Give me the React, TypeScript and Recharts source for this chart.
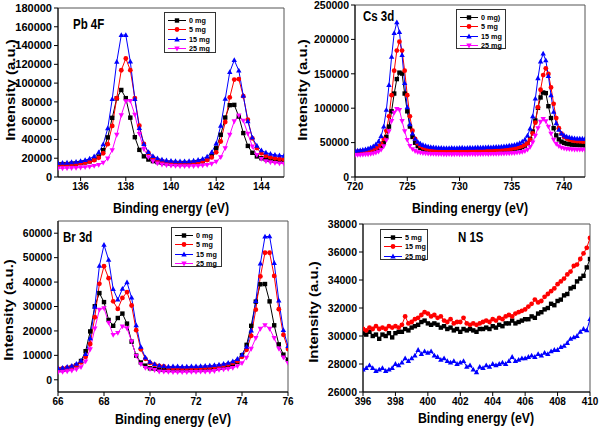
import { LineChart, Line, XAxis, YAxis, ReferenceArea } from "recharts";

// values are in thousands of counts (a.u.), multiplied by K when the rows are built
const K = 1000;

// ---- Pb 4F ----
const PB_X = [
  135, 135.2, 135.4, 135.6, 135.8, 136, 136.2, 136.4, 136.6, 136.8,
  137, 137.2, 137.4, 137.6, 137.8, 138, 138.2, 138.4, 138.6, 138.8,
  139, 139.2, 139.4, 139.6, 139.8, 140, 140.2, 140.4, 140.6, 140.8,
  141, 141.2, 141.4, 141.6, 141.8, 142, 142.2, 142.4, 142.6, 142.8,
  143, 143.2, 143.4, 143.6, 143.8, 144, 144.2, 144.4, 144.6, 144.8, 145,
];
const PB_0MG = [
  13.4, 13.7, 13.7, 14.2, 14.3, 14.9, 15.6, 16.6, 18.4, 21.8,
  28.6, 42.2, 63.0, 83.8, 92.7, 84.0, 63.2, 42.4, 28.9, 22.0,
  18.6, 16.9, 15.9, 15.2, 14.8, 14.6, 14.4, 14.6, 14.5, 14.8,
  15.1, 15.8, 16.8, 18.7, 22.5, 30.6, 45.0, 63.3, 76.5, 76.8,
  64.4, 46.8, 33.1, 25.8, 21.9, 20.0, 18.9, 18.2, 17.7, 17.4, 17.1,
];
const PB_5MG = [
  13.1, 13.3, 13.6, 13.9, 14.1, 14.7, 15.4, 16.4, 17.9, 20.4,
  25.3, 35.0, 54.4, 84.0, 113.7, 126.2, 113.8, 84.1, 54.6, 35.2,
  25.6, 20.7, 18.3, 16.8, 15.9, 15.3, 15.1, 14.9, 14.8, 15.0,
  15.2, 15.7, 16.7, 18.1, 20.9, 26.3, 37.8, 58.6, 84.8, 103.8,
  104.3, 86.1, 61.0, 41.2, 30.8, 25.3, 22.5, 21.0, 19.9, 19.3, 18.8,
];
const PB_15MG = [
  14.7, 15.0, 15.2, 15.7, 16.2, 17.0, 18.0, 19.5, 21.9, 26.2,
  34.7, 51.7, 83.0, 122.7, 151.1, 151.2, 122.8, 83.1, 52.0, 35.0,
  26.5, 22.3, 19.9, 18.5, 17.6, 17.1, 16.8, 16.7, 16.7, 16.8,
  17.3, 18.1, 19.4, 21.7, 26.3, 35.7, 54.6, 83.2, 111.8, 124.4,
  113.4, 86.4, 59.4, 41.9, 33.3, 28.3, 26.0, 24.6, 23.6, 23.0, 22.6,
];
const PB_25MG = [
  9.2, 9.3, 9.4, 9.6, 9.8, 10.1, 10.5, 11.0, 11.8, 13.0,
  15.3, 19.7, 28.6, 45.0, 65.9, 80.8, 81.0, 66.4, 45.9, 29.8,
  21.2, 16.8, 14.5, 13.3, 12.6, 12.1, 11.8, 11.6, 11.6, 11.6,
  11.7, 11.9, 12.3, 13.0, 14.1, 16.4, 21.1, 30.7, 45.0, 59.4,
  65.7, 60.1, 46.1, 32.5, 23.6, 19.2, 16.9, 15.7, 15.0, 14.5, 14.2,
];
const PB_XTICKS = [136, 138, 140, 142, 144];
const PB_YTICKS = [0, 20000, 40000, 60000, 80000, 100000, 120000, 140000, 160000, 180000];

// ---- Cs 3d ----
const CS_X = [
  720, 720.25, 720.5, 720.75, 721, 721.25, 721.5, 721.75, 722, 722.25,
  722.5, 722.75, 723, 723.25, 723.5, 723.75, 724, 724.25, 724.5, 724.75,
  725, 725.25, 725.5, 725.75, 726, 726.25, 726.5, 726.75, 727, 727.25,
  727.5, 727.75, 728, 728.25, 728.5, 728.75, 729, 729.25, 729.5, 729.75,
  730, 730.25, 730.5, 730.75, 731, 731.25, 731.5, 731.75, 732, 732.25,
  732.5, 732.75, 733, 733.25, 733.5, 733.75, 734, 734.25, 734.5, 734.75,
  735, 735.25, 735.5, 735.75, 736, 736.25, 736.5, 736.75, 737, 737.25,
  737.5, 737.75, 738, 738.25, 738.5, 738.75, 739, 739.25, 739.5, 739.75,
  740, 740.25, 740.5, 740.75, 741, 741.25, 741.5, 741.75, 742,
];
const CS_0MG = [
  36.0, 36.2, 36.4, 36.7, 37.0, 37.5, 38.1, 39.0, 40.2, 42.0,
  44.6, 49.6, 58.1, 73.3, 95.5, 121.3, 142.3, 151.7, 150.3, 121.3,
  95.5, 73.3, 58.2, 49.8, 44.9, 42.3, 40.6, 39.5, 38.7, 38.2,
  37.8, 37.6, 37.4, 37.2, 37.1, 36.8, 37.2, 36.9, 37.0, 37.3,
  37.1, 36.8, 37.3, 37.0, 37.5, 37.2, 37.6, 37.4, 37.9, 37.6,
  37.9, 38.2, 37.9, 38.4, 38.3, 38.8, 38.6, 39.1, 39.4, 39.7,
  40.1, 40.6, 41.4, 42.3, 43.5, 45.5, 49.0, 55.0, 66.1, 82.1,
  100.5, 115.6, 122.8, 121.9, 102.9, 85.7, 70.9, 60.5, 54.7, 51.4,
  49.6, 48.4, 47.7, 47.1, 46.8, 46.6, 46.4, 46.3, 46.2,
];
const CS_5MG = [
  36.5, 36.8, 37.1, 37.5, 38.0, 38.6, 39.4, 40.7, 42.3, 44.7,
  48.5, 55.3, 67.1, 88.2, 118.9, 154.6, 183.7, 196.7, 183.7, 154.6,
  118.9, 88.2, 67.2, 55.5, 48.8, 45.1, 42.8, 41.4, 40.2, 39.5,
  39.0, 38.6, 38.3, 38.1, 37.9, 37.8, 37.8, 37.7, 37.7, 37.9,
  37.9, 37.6, 38.0, 38.3, 38.2, 38.0, 38.4, 38.6, 38.4, 38.7,
  38.9, 39.1, 38.9, 39.3, 39.5, 39.7, 39.9, 40.2, 40.5, 40.9,
  41.4, 41.9, 42.7, 43.7, 44.9, 46.7, 49.4, 54.3, 63.3, 78.9,
  101.2, 126.8, 148.1, 158.0, 149.8, 130.2, 106.3, 85.6, 71.0, 63.0,
  58.3, 55.8, 54.3, 53.3, 52.5, 52.1, 51.8, 51.6, 51.4,
];
const CS_15MG = [
  37.9, 38.3, 38.8, 39.4, 40.1, 41.1, 42.6, 44.4, 47.3, 51.6,
  59.5, 73.2, 97.6, 133.4, 174.7, 209.2, 224.8, 210.5, 177.2, 136.5,
  101.3, 76.7, 63.1, 55.3, 51.0, 48.3, 46.5, 45.1, 44.2, 43.5,
  43.1, 42.7, 42.4, 42.2, 42.0, 41.9, 42.1, 42.3, 41.9, 42.1,
  42.2, 42.5, 42.1, 42.4, 42.6, 42.3, 42.6, 42.9, 42.7, 42.9,
  43.0, 43.3, 43.1, 43.4, 43.7, 43.9, 44.2, 44.6, 45.0, 45.5,
  46.1, 46.8, 47.9, 49.3, 51.4, 54.4, 60.0, 70.4, 88.2, 113.9,
  143.5, 167.9, 179.2, 169.5, 146.7, 118.7, 94.6, 77.8, 68.4, 63.1,
  60.3, 58.5, 57.5, 56.7, 56.2, 55.9, 55.7, 55.6, 55.5,
];
const CS_25MG = [
  32.0, 32.1, 32.3, 32.5, 32.8, 33.1, 33.6, 34.3, 35.3, 36.9,
  39.7, 44.7, 53.5, 66.5, 81.4, 93.7, 99.1, 97.7, 81.4, 66.7,
  53.9, 45.2, 40.4, 37.8, 36.3, 35.3, 34.7, 34.2, 33.9, 33.7,
  33.5, 33.4, 33.3, 33.2, 33.1, 32.8, 33.2, 33.0, 33.1, 33.3,
  32.9, 33.1, 33.2, 33.0, 33.2, 33.4, 33.1, 33.3, 33.2, 33.4,
  33.5, 33.3, 33.5, 33.6, 33.7, 33.8, 33.9, 34.1, 34.2, 34.4,
  34.6, 34.9, 35.3, 35.8, 36.6, 37.7, 39.8, 43.7, 50.4, 60.1,
  71.1, 80.3, 84.6, 81.3, 73.1, 63.1, 54.4, 48.2, 44.8, 42.8,
  41.7, 41.0, 40.6, 40.2, 40.0, 39.9, 39.8, 39.7, 39.6,
];
const CS_XTICKS = [720, 725, 730, 735, 740];
const CS_YTICKS = [0, 50000, 100000, 150000, 200000, 250000];

// ---- Br 3d ----
const BR_X = [
  66, 66.2, 66.4, 66.6, 66.8, 67, 67.2, 67.4, 67.6, 67.8,
  68, 68.2, 68.4, 68.6, 68.8, 69, 69.2, 69.4, 69.6, 69.8,
  70, 70.2, 70.4, 70.6, 70.8, 71, 71.2, 71.4, 71.6, 71.8,
  72, 72.2, 72.4, 72.6, 72.8, 73, 73.2, 73.4, 73.6, 73.8,
  74, 74.2, 74.4, 74.6, 74.8, 75, 75.2, 75.4, 75.6, 75.8, 76,
];
const BR_0MG = [
  4.1, 4.3, 4.6, 5.1, 5.9, 7.7, 11.7, 19.8, 30.1, 35.5,
  31.8, 24.5, 22.1, 25.3, 27.1, 23.0, 15.6, 9.9, 7.1, 5.8,
  4.7, 4.5, 4.3, 4.2, 4.1, 4.1, 4.1, 4.1, 4.1, 4.2,
  4.2, 4.3, 4.4, 4.5, 4.7, 4.9, 5.2, 5.6, 6.2, 7.3,
  10.0, 14.3, 22.1, 32.0, 39.1, 39.2, 32.1, 22.3, 14.5, 10.3, 8.2,
];
const BR_5MG = [
  4.5, 4.7, 5.0, 5.4, 6.0, 7.1, 9.4, 14.7, 25.6, 39.3,
  46.5, 41.6, 32.1, 29.0, 33.5, 35.9, 30.4, 20.3, 12.5, 8.6,
  6.9, 6.2, 5.7, 5.5, 4.8, 4.8, 4.7, 4.7, 4.7, 4.7,
  4.8, 4.9, 5.0, 5.1, 5.3, 5.6, 5.9, 6.3, 6.9, 7.7,
  9.4, 12.3, 18.0, 28.7, 42.3, 52.0, 52.0, 42.5, 28.9, 18.4, 12.6,
];
const BR_15MG = [
  4.7, 4.9, 5.3, 5.7, 6.5, 7.8, 10.5, 17.0, 29.9, 46.6,
  55.2, 49.1, 37.1, 32.8, 37.2, 39.9, 33.6, 22.3, 13.5, 9.1,
  7.3, 6.4, 5.8, 5.6, 5.4, 5.5, 5.5, 5.4, 5.4, 5.5,
  5.5, 5.6, 5.7, 5.8, 6.0, 6.2, 6.5, 6.9, 7.5, 8.5,
  10.2, 13.5, 20.1, 32.2, 47.6, 58.6, 58.7, 47.8, 32.4, 20.3, 13.8,
];
const BR_25MG = [
  3.1, 3.2, 3.5, 3.8, 4.3, 5.2, 7.5, 12.5, 21.0, 28.7,
  29.3, 23.4, 18.4, 19.2, 21.9, 21.1, 15.7, 9.8, 6.4, 4.9,
  4.4, 4.0, 3.4, 3.3, 3.2, 3.1, 3.1, 3.1, 3.1, 3.2,
  3.2, 3.3, 3.3, 3.4, 3.6, 4.1, 4.3, 4.5, 4.9, 5.6,
  6.8, 9.1, 12.7, 17.1, 20.9, 22.4, 20.9, 17.1, 12.8, 9.2, 6.9,
];
const BR_XTICKS = [66, 68, 70, 72, 74, 76];
const BR_YTICKS = [0, 10000, 20000, 30000, 40000, 50000, 60000];

// ---- N 1S ----
const N_X = [
  396, 396.2, 396.4, 396.6, 396.8, 397, 397.2, 397.4, 397.6, 397.8,
  398, 398.2, 398.4, 398.6, 398.8, 399, 399.2, 399.4, 399.6, 399.8,
  400, 400.2, 400.4, 400.6, 400.8, 401, 401.2, 401.4, 401.6, 401.8,
  402, 402.2, 402.4, 402.6, 402.8, 403, 403.2, 403.4, 403.6, 403.8,
  404, 404.2, 404.4, 404.6, 404.8, 405, 405.2, 405.4, 405.6, 405.8,
  406, 406.2, 406.4, 406.6, 406.8, 407, 407.2, 407.4, 407.6, 407.8,
  408, 408.2, 408.4, 408.6, 408.8, 409, 409.2, 409.4, 409.6, 409.8, 410,
];
const N_5MG = [
  30.2, 30.1, 30.3, 30.0, 30.1, 29.8, 30.1, 30.0, 30.2, 29.9,
  30.2, 30.3, 30.3, 30.5, 30.4, 30.6, 30.7, 30.8, 31.0, 31.1,
  30.9, 30.8, 30.9, 30.8, 30.6, 30.7, 30.5, 30.6, 30.4, 30.5,
  30.3, 30.5, 30.4, 30.5, 30.4, 30.3, 30.5, 30.5, 30.6, 30.5,
  30.7, 30.6, 30.8, 30.7, 30.9, 30.9, 31.1, 30.9, 31.0, 31.1,
  31.2, 31.2, 31.4, 31.3, 31.6, 31.7, 31.9, 32.0, 32.3, 32.2,
  32.5, 32.6, 32.9, 33.0, 33.4, 33.5, 33.9, 34.1, 34.3, 34.9, 35.5,
];
const N_15MG = [
  30.5, 30.4, 30.6, 30.5, 30.7, 30.5, 30.6, 30.5, 30.7, 30.6,
  30.7, 30.6, 30.8, 31.4, 30.9, 31.0, 31.2, 31.3, 31.5, 31.7,
  31.6, 31.4, 31.5, 31.3, 31.4, 31.1, 31.0, 31.2, 30.9, 31.0,
  31.0, 31.3, 30.9, 30.8, 30.9, 30.8, 30.9, 31.0, 31.1, 31.0,
  31.2, 31.1, 31.3, 31.2, 31.4, 31.5, 31.4, 31.6, 31.7, 31.8,
  31.9, 32.1, 32.3, 32.6, 32.4, 32.5, 32.8, 33.0, 33.2, 33.4,
  33.7, 33.9, 34.1, 34.4, 34.6, 35.0, 35.1, 35.5, 35.9, 36.3, 37.0,
];
const N_25MG = [
  27.6, 27.7, 27.9, 27.7, 27.5, 27.6, 27.7, 27.5, 27.6, 27.7,
  28.0, 27.9, 28.1, 28.4, 28.2, 28.4, 28.6, 29.0, 28.7, 28.9,
  28.8, 28.9, 28.6, 28.5, 28.3, 28.4, 28.2, 28.1, 28.2, 28.0,
  28.1, 28.2, 27.8, 27.9, 27.6, 27.4, 27.8, 27.7, 27.9, 27.8,
  28.0, 27.9, 28.0, 28.1, 28.0, 28.2, 28.5, 28.2, 28.3, 28.4,
  28.4, 28.5, 28.6, 28.5, 28.7, 28.6, 28.8, 28.7, 28.9, 29.0,
  29.0, 29.2, 29.3, 29.5, 29.8, 29.9, 30.0, 30.3, 30.5, 30.4, 31.2,
];
const N_XTICKS = [396, 398, 400, 402, 404, 406, 408, 410];
const N_YTICKS = [26000, 28000, 30000, 32000, 34000, 36000, 38000];

const FONT = '"Liberation Sans", Arial, sans-serif';
const BLACK = "#000000";
const RED = "#ff0000";
const BLUE = "#0000ff";
const MAGENTA = "#ff00ff";

type Shape = "square" | "circle" | "up" | "down";
type Series = { name: string; values: number[]; color: string; shape: Shape };

function Marker({ cx, cy, color, shape }: { cx: number; cy: number; color: string; shape: Shape }) {
  if (cx == null || cy == null) return null;
  if (shape === "square")
    return <rect x={cx - 2.2} y={cy - 2.2} width={4.4} height={4.4} fill={color} />;
  if (shape === "circle") return <circle cx={cx} cy={cy} r={2.4} fill={color} />;
  const s = shape === "up" ? 1 : -1;
  return (
    <polygon
      points={`${cx},${cy - 2.9 * s} ${cx + 2.7},${cy + 1.9 * s} ${cx - 2.7},${cy + 1.9 * s}`}
      fill={color}
    />
  );
}

function Panel({ left, top, width, height, margin, yAxisWidth, xAxisHeight, x, series, xDomain, yDomain, xTicks, yTicks, yTickFont }: any) {
  const data = x.map((v: number, i: number) => {
    const row: any = { x: v };
    series.forEach((s: Series, k: number) => (row["s" + k] = s.values[i] * K));
    return row;
  });
  const tick = { fontSize: 10, fontWeight: 700, fill: "#000", fontFamily: FONT };
  return (
    <div style={{ position: "absolute", left, top }}>
      <LineChart width={width} height={height} data={data} margin={margin}>
        <XAxis
          dataKey="x"
          type="number"
          domain={xDomain}
          ticks={xTicks}
          interval={0}
          height={xAxisHeight}
          tick={tick}
          tickSize={4}
          tickMargin={2}
          axisLine={{ stroke: "#000" }}
          tickLine={{ stroke: "#000" }}
          allowDataOverflow
        />
        <YAxis
          type="number"
          domain={yDomain}
          ticks={yTicks}
          interval={0}
          width={yAxisWidth}
          tick={{ ...tick, fontSize: yTickFont }}
          tickSize={4}
          tickMargin={2}
          axisLine={{ stroke: "#000" }}
          tickLine={{ stroke: "#000" }}
          allowDataOverflow
        />
        <ReferenceArea
          x1={xDomain[0]}
          x2={xDomain[1]}
          y1={yDomain[0]}
          y2={yDomain[1]}
          fill="none"
          stroke="#555"
          strokeWidth={1}
          ifOverflow="visible"
        />
        {series.map((s: Series, k: number) => (
          <Line
            key={s.name}
            dataKey={"s" + k}
            name={s.name}
            type="linear"
            stroke={s.color}
            strokeWidth={1}
            isAnimationActive={false}
            activeDot={false}
            dot={(p: any) => (
              <Marker key={`${k}-${p.index}`} cx={p.cx} cy={p.cy} color={s.color} shape={s.shape} />
            )}
          />
        ))}
      </LineChart>
    </div>
  );
}

function LegendBox({ left, top, width, height, items }: any) {
  return (
    <div
      style={{
        position: "absolute",
        left,
        top,
        width,
        height,
        border: "1px solid #333",
        background: "#fff",
        boxSizing: "border-box",
      }}
    >
      {items.map((it: Series, i: number) => (
        <div
          key={it.name}
          style={{ position: "absolute", left: 2, top: 3 + i * 9.3, height: 9, display: "flex", alignItems: "center" }}
        >
          <svg width={20} height={9} style={{ display: "block" }}>
            <line x1={1} y1={4.5} x2={19} y2={4.5} stroke={it.color} strokeWidth={1} />
            <Marker cx={10} cy={4.5} color={it.color} shape={it.shape} />
          </svg>
          <span
            style={{
              fontFamily: FONT,
              fontWeight: 700,
              fontSize: 8,
              lineHeight: "9px",
              marginLeft: 2,
              whiteSpace: "nowrap",
              display: "inline-block",
              transform: "scaleX(0.9)",
              transformOrigin: "left center",
            }}
          >
            {it.name}
          </span>
        </div>
      ))}
    </div>
  );
}

function HText({ cx, cy, left, size, children }: any) {
  // horizontally squeezed bold text, as in the source figure
  const centered = left == null;
  return (
    <div
      style={{
        position: "absolute",
        left: centered ? cx : left,
        top: cy,
        fontFamily: FONT,
        fontWeight: 700,
        fontSize: size,
        lineHeight: 1,
        whiteSpace: "nowrap",
        transform: centered ? "translate(-50%, -50%) scaleX(0.82)" : "translateY(-50%) scaleX(0.82)",
        transformOrigin: centered ? "center center" : "left center",
      }}
    >
      {children}
    </div>
  );
}

function VText({ cx, cy, children }: any) {
  return (
    <div
      style={{
        position: "absolute",
        left: cx,
        top: cy,
        fontFamily: FONT,
        fontWeight: 700,
        fontSize: 15,
        lineHeight: 1,
        whiteSpace: "nowrap",
        transform: "translate(-50%, -50%) rotate(-90deg) scaleY(0.82)",
      }}
    >
      {children}
    </div>
  );
}

const pbSeries: Series[] = [
  { name: "0 mg", values: PB_0MG, color: BLACK, shape: "square" },
  { name: "5 mg", values: PB_5MG, color: RED, shape: "circle" },
  { name: "15 mg", values: PB_15MG, color: BLUE, shape: "up" },
  { name: "25 mg", values: PB_25MG, color: MAGENTA, shape: "down" },
];
const csSeries: Series[] = [
  { name: "0 mg)", values: CS_0MG, color: BLACK, shape: "square" },
  { name: "5 mg", values: CS_5MG, color: RED, shape: "circle" },
  { name: "15 mg", values: CS_15MG, color: BLUE, shape: "up" },
  { name: "25 mg", values: CS_25MG, color: MAGENTA, shape: "down" },
];
const brSeries: Series[] = [
  { name: "0 mg", values: BR_0MG, color: BLACK, shape: "square" },
  { name: "5 mg", values: BR_5MG, color: RED, shape: "circle" },
  { name: "15 mg", values: BR_15MG, color: BLUE, shape: "up" },
  { name: "25 mg", values: BR_25MG, color: MAGENTA, shape: "down" },
];
const nSeries: Series[] = [
  { name: "5 mg", values: N_5MG, color: BLACK, shape: "square" },
  { name: "15 mg", values: N_15MG, color: RED, shape: "circle" },
  { name: "25 mg", values: N_25MG, color: BLUE, shape: "up" },
];

export default function App() {
  return (
    <div style={{ position: "absolute", left: 0, top: 0, width: 600, height: 429, background: "#fff", overflow: "hidden" }}>
      <Panel
        left={0} top={0} width={300} height={215}
        margin={{ top: 8, right: 16, bottom: 0, left: 0 }}
        yAxisWidth={58} xAxisHeight={38} yTickFont={11}
        x={PB_X} series={pbSeries} xDomain={[135, 145]} yDomain={[0, 180000]}
        xTicks={PB_XTICKS} yTicks={PB_YTICKS}
      />
      <Panel
        left={300} top={0} width={300} height={215}
        margin={{ top: 5, right: 15, bottom: 0, left: 0 }}
        yAxisWidth={55} xAxisHeight={38} yTickFont={10.5}
        x={CS_X} series={csSeries} xDomain={[720, 742]} yDomain={[0, 250000]}
        xTicks={CS_XTICKS} yTicks={CS_YTICKS}
      />
      <Panel
        left={0} top={215} width={300} height={214}
        margin={{ top: 6, right: 12, bottom: 0, left: 0 }}
        yAxisWidth={58} xAxisHeight={37} yTickFont={10.5}
        x={BR_X} series={brSeries} xDomain={[66, 76]} yDomain={[-5000, 65000]}
        xTicks={BR_XTICKS} yTicks={BR_YTICKS}
      />
      <Panel
        left={300} top={215} width={300} height={214}
        margin={{ top: 9, right: 10, bottom: 0, left: 0 }}
        yAxisWidth={63} xAxisHeight={37} yTickFont={10.5}
        x={N_X} series={nSeries} xDomain={[396, 410]} yDomain={[26000, 38000]}
        xTicks={N_XTICKS} yTicks={N_YTICKS}
      />

      <HText left={73} cy={24} size={14}>Pb 4F</HText>
      <HText left={363} cy={16} size={14}>Cs 3d</HText>
      <HText left={63} cy={237} size={14}>Br 3d</HText>
      <HText left={458} cy={237} size={14}>N 1S</HText>

      <LegendBox left={164} top={12} width={52} height={41} items={pbSeries} />
      <LegendBox left={456} top={9} width={50} height={40} items={csSeries} />
      <LegendBox left={171} top={227} width={51} height={40} items={brSeries} />
      <LegendBox left={380} top={229} width={48} height={31} items={nSeries} />

      <HText cx={171} cy={207} size={15}>Binding energy (eV)</HText>
      <HText cx={470} cy={207} size={15}>Binding energy (eV)</HText>
      <HText cx={173} cy={418} size={15}>Binding energy (eV)</HText>
      <HText cx={476} cy={417} size={15}>Binding energy (eV)</HText>

      <VText cx={10} cy={90}>Intensity (a.u.)</VText>
      <VText cx={302} cy={90}>Intensity (a.u.)</VText>
      <VText cx={8} cy={310}>Intensity (a.u.)</VText>
      <VText cx={313} cy={312}>Intensity (a.u.)</VText>
    </div>
  );
}
